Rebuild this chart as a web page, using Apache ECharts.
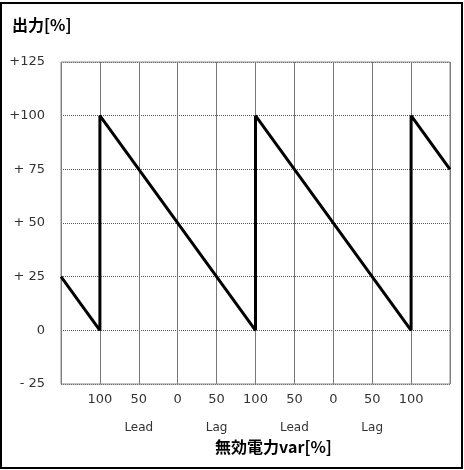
<!DOCTYPE html>
<html>
<head>
<meta charset="utf-8">
<script src="https://cdn.jsdelivr.net/npm/echarts@6/dist/echarts.min.js"></script>
<style>
  body { margin: 0; background: #fff; }
  #main { width: 464px; height: 470px; }
</style>
</head>
<body>
<div id="main"></div>
<script>
// sawtooth points: x position (grid index) and output [%]
var xPos = [0, 1, 1, 5, 5, 9, 9, 10];
var output = [25, 0, 100, 0, 100, 0, 100, 75];
var xTickLabels = ['', '100', '50', '0', '50', '100', '50', '0', '50', '100', ''];
var sideLabels = ['', '', 'Lead', '', 'Lag', '', 'Lead', '', 'Lag', '', ''];
var yTickLabels = { '-25': '- 25', '0': '0', '25': '+ 25', '50': '+ 50', '75': '+ 75', '100': '+100', '125': '+125' };

var chartDom = document.getElementById('main');
var myChart = echarts.init(chartDom);
var font = '"DejaVu Sans", sans-serif';

var option = {
  animation: false,
  grid: { left: 61, right: 14, top: 62, bottom: 86 },
  graphic: [
    {
      type: 'rect',
      shape: { x: 1, y: 3, width: 461, height: 465 },
      style: { fill: 'none', stroke: '#000', lineWidth: 2 }
    },
    {
      type: 'text',
      left: 12,
      top: 17,
      style: { text: '出力[%]', font: 'bold 16px "Noto Sans CJK JP", sans-serif', fill: '#000' }
    }
  ],
  xAxis: [
    {
      type: 'value',
      min: 0,
      max: 10,
      interval: 1,
      axisLine: { show: false },
      axisTick: { show: false },
      splitLine: { show: true, lineStyle: { color: '#777', width: 1 } },
      axisLabel: {
        margin: 9,
        color: '#333',
        fontFamily: font,
        fontSize: 13,
        showMinLabel: true,
        showMaxLabel: true,
        formatter: function (v) { return xTickLabels[v]; }
      },
      name: '無効電力var[%]',
      nameLocation: 'middle',
      nameGap: 55,
      nameTextStyle: {
        fontFamily: '"Noto Sans CJK JP", sans-serif',
        fontWeight: 'bold',
        fontSize: 16,
        color: '#000',
        padding: [0, 0, 0, 36]
      }
    },
    {
      type: 'value',
      position: 'bottom',
      offset: 30,
      min: 0,
      max: 10,
      interval: 1,
      axisLine: { show: false },
      axisTick: { show: false },
      splitLine: { show: false },
      axisLabel: {
        color: '#333',
        fontFamily: font,
        fontSize: 12,
        formatter: function (v) { return sideLabels[v]; }
      }
    }
  ],
  yAxis: {
    type: 'value',
    min: -25,
    max: 125,
    interval: 25,
    axisLine: { show: false },
    axisTick: { show: false },
    splitLine: { show: true, lineStyle: { color: '#555', type: [1, 1], width: 1 } },
    axisLabel: {
      margin: 16,
      color: '#333',
      fontFamily: font,
      fontSize: 13,
      formatter: function (v) { return yTickLabels[v]; }
    }
  },
  series: [
    {
      type: 'line',
      data: xPos.map(function (x, i) { return [x, output[i]]; }),
      symbol: 'none',
      lineStyle: { color: '#000', width: 3 },
      z: 5
    },
    {
      // plot frame
      type: 'line',
      data: [],
      markArea: {
        silent: true,
        itemStyle: { color: 'none', borderColor: '#888', borderWidth: 1 },
        data: [[{ coord: [0, -25] }, { coord: [10, 125] }]]
      }
    }
  ]
};

option && myChart.setOption(option);
</script>
</body>
</html>
